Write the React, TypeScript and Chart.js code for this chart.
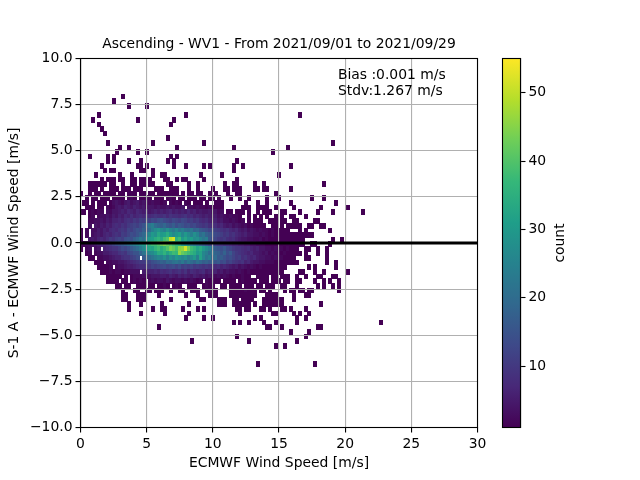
import React, { useEffect, useRef } from "react";
import { Chart, registerables } from "chart.js";

Chart.register(...registerables);
Chart.defaults.font.family = "'DejaVu Sans'";
Chart.defaults.color = "#000";

const titleText = "Ascending - WV1 - From 2021/09/01 to 2021/09/29";
const xLabel = "ECMWF Wind Speed [m/s]";
const yLabel = "S-1 A - ECMWF Wind Speed [m/s]";
const statsLines = ["Bias :0.001 m/s", "Stdv:1.267 m/s"];
const colorbarTicks = [10, 20, 30, 40, 50];
const countRange = [1, 55];
const zeroLineX = [0, 30];
const zeroLineY = [0, 0];

// bin size of the 2d histogram, first row is the top one
const xBin = 0.2267;
const yBin = 0.25;
const yFirstRow = 7.96;

// one entry per y row, each segment is [first column, counts...]
const rows: number[][][] = [
  [[14, 1]],
  [[11, 1]],
  [[16, 1], [22, 1]],
  [],
  [[6, 1], [35, 1], [73, 1]],
  [[4, 1], [19, 1], [31, 1]],
  [[6, 1], [30, 1]],
  [[7, 1]],
  [[8, 1]],
  [[29, 1]],
  [[9, 1], [24, 1], [41, 1], [84, 1]],
  [[13, 1], [16, 1], [32, 1], [51, 1], [69, 1]],
  [[12, 1], [19, 1], [22, 1], [64, 1]],
  [[3, 1], [9, 1], [11, 1], [30, 1], [32, 1]],
  [[9, 1], [11, 1], [16, 1], [20, 1], [29, 1], [31, 1], [52, 1]],
  [[7, 1], [19, 1, 1], [22, 1], [31, 1], [35, 1], [41, 1], [43, 1], [51, 1], [54, 1], [70, 1]],
  [[8, 1], [10, 1, 1], [20, 1, 1], [24, 1], [51, 1]],
  [[5, 1], [13, 1], [17, 1], [24, 1], [27, 1, 1], [40, 1], [47, 1], [66, 1]],
  [[7, 1], [9, 1, 1, 1], [13, 1, 1], [17, 1, 1], [20, 1, 1], [23, 1], [28, 1, 1], [32, 1], [34, 1, 1], [41, 1], [52, 1]],
  [[3, 1, 1, 1, 1, 1, 1], [10, 1, 1], [14, 1], [17, 1, 1], [20, 1, 1], [23, 1, 1], [29, 1, 1], [36, 1], [39, 1], [48, 1], [51, 1, 1], [58, 1], [61, 1], [81, 1]],
  [[3, 1, 1, 1], [7, 1], [10, 1, 1, 1], [14, 1, 1, 1], [18, 1, 1, 1], [25, 1, 1, 1], [30, 1, 1, 1], [36, 1], [39, 1], [44, 1], [48, 1, 1], [51, 1, 1, 1], [58, 1, 1], [61, 1, 1], [70, 1]],
  [[0, 1], [3, 1], [5, 1, 1], [8, 1, 1, 1, 1], [13, 1, 1], [16, 1, 1, 1], [20, 1, 1], [23, 1, 1], [26, 1, 1, 1, 1], [30, 1, 1, 1], [34, 1], [36, 1, 1], [39, 1, 1], [43, 1], [45, 1], [49, 1], [52, 1, 1], [65, 1]],
  [[2, 1], [4, 1, 1], [7, 1, 1, 1], [11, 1, 1, 1, 1], [16, 1, 2, 1], [20, 1, 1, 2, 1], [25, 1, 1, 1], [29, 1, 2, 1], [33, 1, 1], [36, 1, 1, 1], [40, 1, 1], [43, 1, 1], [46, 1], [50, 1], [53, 1], [56, 1], [62, 1], [66, 1], [77, 1], [81, 1]],
  [[1, 1, 1], [4, 1], [6, 1, 1, 1], [10, 1, 3, 4, 3, 2, 4, 5, 3, 4, 5, 3, 4, 3, 2, 3, 2, 2], [27, 1, 2], [30, 2, 1, 2, 1], [35, 2, 1], [38, 1, 1, 1], [42, 1], [45, 1, 1, 1], [55, 1], [59, 1], [62, 1], [70, 1], [85, 1]],
  [[2, 1, 1, 1], [6, 1, 1], [9, 2, 1, 2], [12, 4, 5, 4, 6, 5, 4, 6, 5, 4, 5, 3, 4, 4, 3, 4, 3, 3], [29, 4, 3, 4, 3, 3, 4], [36, 3, 3, 2, 3, 2, 2, 1, 2, 1, 1], [46, 1, 1], [54, 1, 1, 1], [59, 1, 1, 1, 1], [65, 1], [71, 1], [80, 1], [89, 1]],
  [[0, 1, 1], [3, 1, 2, 1, 2, 2], [9, 3, 2, 4, 4, 5, 6, 5, 7, 6, 5, 7, 6, 5, 6, 4, 5, 6, 5, 6, 5, 6, 7, 5, 6, 5, 6, 5, 7, 5, 6, 4, 5, 4, 4, 5, 3, 4, 2, 3], [49, 1, 1], [52, 1, 1, 1], [56, 1], [59, 1], [61, 1, 1, 1], [67, 1, 1], [73, 1], [79, 1], [84, 1], [94, 1]],
  [[3, 1, 2], [6, 2, 3], [8, 3, 4, 3, 5, 4, 6, 5, 7, 6, 8, 6, 7, 8, 7, 9, 7, 8, 9, 8, 8, 9, 7, 9, 8, 8, 7, 8, 9, 7, 8, 6, 7, 6, 5, 6, 5, 4, 5, 3, 4, 3, 2, 3, 2, 2, 1], [56, 1], [58, 1], [60, 1], [62, 1], [65, 1], [67, 1], [70, 1, 1], [75, 1]],
  [[3, 2, 2, 3, 3, 4, 3, 5, 4, 6, 6, 7, 6, 8, 9, 8, 10, 9, 11, 10, 12, 11, 13, 12, 14, 15, 13, 12, 11, 13, 12, 11, 13, 12, 10, 11, 9, 10, 8, 7, 8, 6, 5, 6, 4, 5, 3, 3, 2, 3, 2, 1, 2], [56, 1], [58, 1, 1, 1], [63, 1, 1, 1], [67, 1, 1], [71, 1, 1], [78, 1, 1]],
  [[3, 3], [5, 4, 3, 5, 4, 6, 5, 7, 8, 7, 9, 8, 10, 11, 12, 11, 13, 15, 18, 22, 24, 20, 18, 17, 19, 16, 15, 17, 14, 16, 15, 13, 14, 12, 13, 11, 10, 9, 10, 8, 7, 8, 6, 7, 5, 4, 5, 3, 4, 3, 2, 3, 1, 2, 1, 1, 1, 1], [64, 1, 1], [67, 1], [69, 1, 1, 1, 1, 1], [76, 1, 1], [80, 1, 1]],
  [[0, 1], [2, 2], [4, 3, 3, 5, 4, 6, 5, 7, 8, 7, 9, 10, 9, 12, 11, 13, 15, 14, 17, 16, 20, 24, 27, 29, 26, 24, 28, 25, 23, 26, 22, 24, 21, 20, 22, 18, 19, 16, 15, 14, 12, 13, 11, 10, 9, 8, 9, 7, 6, 7, 5, 4, 5, 3, 4, 3, 2, 3, 2, 2, 1, 2, 1, 1, 1, 1, 1], [73, 1], [75, 1], [83, 1]],
  [[0, 1], [2, 2], [4, 3, 4, 5, 4, 6, 7, 6, 8, 9, 8, 11, 10, 12, 14, 13, 15, 17, 19, 22, 26, 30, 28, 33, 30, 31, 34, 30, 27, 29, 31, 26, 30, 27, 24, 28, 25, 20, 22, 18, 16, 15, 13, 12, 11, 9, 10, 8, 9, 7, 6, 5, 6, 4, 4, 3, 3, 2, 3, 2, 1, 2, 1, 1, 1, 1, 1, 1, 1, 1, 1, 1, 1, 1, 1]],
  [[0, 1], [3, 4, 5, 4, 6, 7, 6, 8, 10, 9, 11, 12, 11, 14, 15, 14, 17, 19, 22, 20, 26, 30, 31, 34, 36, 33, 38, 40, 50, 52, 35, 38, 30, 33, 29, 31, 27, 28, 25, 22, 24, 16, 13, 12, 10, 9, 10, 8, 7, 8, 6, 5, 4, 4, 3, 3, 2, 2, 3, 1, 2, 1, 1, 1, 1, 1, 1, 1, 1, 1, 1, 1, 1], [84, 1], [87, 1]],
  [[0, 2, 2, 3, 3, 4, 5, 6, 7, 8, 9, 10, 12, 14, 15, 16, 18, 20, 22, 24, 26, 28, 30, 32, 36, 38, 38, 40, 42, 44, 42, 40, 38, 36, 34, 30, 28, 26, 24, 22, 20, 18, 16, 14, 12, 12, 10, 9, 9, 8, 8, 7, 6, 6, 5, 5, 4, 4, 3, 3, 2, 2, 2, 1, 1, 1, 1, 1, 1, 1, 1, 1, 1, 1, 1, 1], [77, 1, 1], [83, 1]],
  [[0, 1], [2, 2, 3], [5, 3, 4], [8, 6, 7, 8, 9, 9, 11, 13, 12, 14, 16, 18, 20, 23, 26, 30, 33, 32, 36, 38, 34, 37, 40, 44, 42, 39, 45, 46, 52, 44, 38, 36, 32, 34, 30, 27, 24, 20, 16, 15, 14, 16, 13, 12, 10, 9, 9, 8, 7, 8, 6, 5, 6, 4, 4, 3, 3, 2, 3, 2, 2, 1, 2, 1, 1, 1], [75, 1, 1], [79, 1], [82, 1]],
  [[2, 1, 2], [5, 2, 3, 3, 5, 5, 6, 7, 7, 9, 10, 9, 12, 13, 15, 15, 18, 22, 24, 26, 27, 30, 34, 33, 36, 32, 35, 38, 37, 46, 42, 40, 38, 36, 34, 30, 32, 26, 24, 20, 22, 18, 17, 15, 18, 14, 16, 12, 10, 9, 8, 7, 6, 7, 5, 5, 4, 3, 4, 2, 3, 2, 2, 1, 2, 1, 1, 1, 1, 1], [75, 1], [79, 1], [82, 1]],
  [[3, 1, 1], [6, 2, 2, 3, 3, 4, 5, 6, 6, 8, 9, 9, 11, 12, 14], [21, 16, 18, 20, 22, 24, 26, 25, 28, 24, 28, 26, 30, 28, 26, 28, 24, 27, 30, 24, 32, 26, 22, 24, 18, 20, 16, 17, 15, 13, 14, 12, 10, 11, 8, 9, 7, 6, 7, 5, 4, 4, 3, 3, 2, 3, 2, 2, 1, 1, 1, 1], [75, 1, 1], [82, 1]],
  [[5, 1, 1, 1], [9, 2, 2, 3, 3, 4, 4, 5, 6, 7, 8, 9, 10, 10, 12, 12, 14, 15, 16, 18, 17, 20, 19, 21, 22, 20, 23, 19, 22, 20, 18, 21, 19, 17, 18, 16, 18, 15, 16, 13, 14, 11, 12, 10, 9, 8, 9, 6, 7, 5, 4, 4, 3, 3, 2, 2, 2, 1, 1, 1, 1, 1, 1, 1, 1], [82, 1], [85, 1]],
  [[6, 1, 1, 1, 1, 2], [12, 2, 3, 3, 4, 5, 5, 6, 7, 8, 8, 9, 10, 12, 11, 12, 13, 14, 12, 13, 14, 12, 14, 11, 12, 11, 12, 10, 11, 10, 9, 10, 9, 8, 7, 8, 6, 7, 6, 5, 4, 5, 3, 4, 3, 2, 3, 2, 1, 2, 1, 1, 1, 1, 1, 1, 1, 1], [76, 1], [78, 1], [85, 1]],
  [[7, 1, 1, 1, 2, 1, 2, 2, 1, 2, 2, 3, 3, 3], [21, 5, 5, 6, 6, 7, 6, 8, 7, 8, 9, 7, 8, 9, 7, 9, 6, 8, 7, 6, 7, 8, 5, 6, 5, 6, 4, 5, 3, 4, 3, 3, 2, 3, 2, 1, 2, 1, 1, 1, 1, 1, 1, 1, 1, 1, 1, 1], [73, 1, 1], [78, 1], [81, 1], [89, 1]],
  [[9, 1, 1, 1, 1, 1], [15, 1], [17, 1, 2, 2, 2, 3, 3, 3, 4, 4, 4, 5, 5, 4, 6, 5, 4, 6, 5, 6, 5, 4, 6, 5, 4, 5, 3, 4, 3, 2, 3, 2, 3, 2, 1, 2, 1, 1, 2, 1, 1], [59, 1, 1, 1, 1], [64, 1, 1], [67, 1, 1, 1], [72, 1], [75, 1], [79, 1, 1], [84, 1, 1]],
  [[9, 1, 1, 1, 1], [14, 1, 1], [17, 1, 2, 1, 2, 1], [23, 2, 3, 2, 3, 3, 2, 4, 3, 2, 3, 3, 2, 3, 2, 3, 2, 1, 2], [42, 2, 1, 2, 1, 1], [48, 1, 1, 1, 1], [53, 1, 2, 1, 1, 1, 1], [60, 1, 1, 1], [64, 1, 1, 1], [68, 1, 1], [72, 1, 1], [78, 1], [81, 1], [83, 1], [86, 1]],
  [[12, 1, 1], [15, 1, 1], [19, 1, 1, 1], [23, 1, 1], [26, 1, 1, 2, 1], [31, 1, 2, 1], [36, 1, 1, 1], [41, 1, 2, 1, 1], [47, 1, 1], [50, 1, 1, 1, 1], [55, 1, 1, 1], [59, 1, 1], [62, 1, 1, 1], [67, 1, 1], [72, 1], [79, 1], [81, 1], [84, 1], [86, 1]],
  [[14, 1], [18, 1, 1], [22, 1, 1], [25, 1, 1, 1], [30, 1], [33, 1, 1], [37, 1, 1, 1], [42, 1, 2, 1, 1], [50, 1, 1, 1, 1, 1, 2, 1, 1, 1], [60, 1, 1], [63, 1], [68, 1], [70, 1, 1], [73, 1, 1], [76, 1, 1], [86, 1]],
  [[14, 1, 1], [19, 1, 1, 1], [26, 1], [35, 1], [39, 1], [43, 1, 1, 1], [50, 1, 1, 1, 1, 1, 1, 1, 1, 1], [62, 1, 1, 1, 1], [71, 1], [75, 1, 1]],
  [[14, 1, 1], [19, 1, 1, 1], [30, 1], [40, 1, 1], [46, 1, 1, 1], [51, 1, 1], [54, 1, 1, 1, 1], [61, 1, 1, 1, 1, 1, 1, 1], [71, 1]],
  [[16, 1], [20, 1], [27, 1], [36, 1], [46, 1, 1, 1], [51, 1, 1, 1, 1, 1, 1], [58, 1], [61, 1, 1, 1, 1, 1, 1, 1], [80, 1]],
  [[16, 1], [24, 1], [27, 1, 1], [34, 1], [39, 1], [41, 1], [52, 1, 1], [55, 1, 1], [60, 1, 1], [63, 1], [67, 1, 1], [70, 1], [75, 1]],
  [[20, 1], [28, 1], [36, 1], [53, 1], [64, 1, 1], [71, 1], [73, 1], [76, 1]],
  [[35, 1], [41, 1], [44, 1], [58, 1], [60, 1], [72, 1], [75, 1]],
  [[51, 1], [53, 1], [56, 1], [61, 1], [65, 1], [72, 1], [100, 1]],
  [[26, 1], [62, 1, 1], [67, 1], [79, 1, 1]],
  [[70, 1], [76, 1]],
  [[52, 1], [75, 1]],
  [[37, 1], [56, 1], [72, 1]],
  [[65, 1], [68, 1]],
  [],
  [],
  [],
  [[59, 1], [78, 1]],
];

const viridisStops = [
  "#440154", "#482878", "#3e4989", "#31688e", "#26828e",
  "#1f9e89", "#35b779", "#6ece58", "#b5de2b", "#fde725",
];

type Cell = { x: number; y: number; v: number };

function buildCells(): Cell[] {
  const cells: Cell[] = [];
  rows.forEach((segments, k) => {
    segments.forEach(([first, ...counts]) => {
      counts.forEach((v, i) => {
        cells.push({ x: (first + i) * xBin, y: yFirstRow - k * yBin, v });
      });
    });
  });
  return cells;
}

function hexToRgb(hex: string) {
  return [1, 3, 5].map((i) => parseInt(hex.slice(i, i + 2), 16));
}

function viridis(count: number) {
  const t = Math.min(1, Math.max(0, (count - countRange[0]) / (countRange[1] - countRange[0])));
  const pos = t * (viridisStops.length - 1);
  const i = Math.min(viridisStops.length - 2, Math.floor(pos));
  const a = hexToRgb(viridisStops[i]);
  const b = hexToRgb(viridisStops[i + 1]);
  const c = a.map((v, j) => Math.round(v + (b[j] - v) * (pos - i)));
  return `rgb(${c[0]},${c[1]},${c[2]})`;
}

// cells go under the grid, so this runs before the grid layer
const cellsPlugin = {
  id: "cells",
  beforeDraw(chart: any) {
    const { ctx, chartArea, scales } = chart;
    ctx.save();
    ctx.beginPath();
    ctx.rect(chartArea.left, chartArea.top, chartArea.right - chartArea.left, chartArea.bottom - chartArea.top);
    ctx.clip();
    chart.data.datasets[0].data.forEach((c: Cell) => {
      const x0 = Math.round(scales.x.getPixelForValue(c.x - xBin / 2));
      const x1 = Math.round(scales.x.getPixelForValue(c.x + xBin / 2));
      const y0 = Math.round(scales.y.getPixelForValue(c.y + yBin / 2));
      const y1 = Math.round(scales.y.getPixelForValue(c.y - yBin / 2));
      ctx.fillStyle = viridis(c.v);
      ctx.fillRect(x0, y0, x1 - x0 + 1, y1 - y0 + 1);
    });
    ctx.restore();
  },
};

const framePlugin = {
  id: "frame",
  afterDraw(chart: any) {
    const { ctx, chartArea, scales } = chart;
    ctx.save();
    ctx.strokeStyle = "#000";
    ctx.lineWidth = 1.1;
    ctx.strokeRect(chartArea.left, chartArea.top, chartArea.right - chartArea.left, chartArea.bottom - chartArea.top);
    if (chart.config.type === "scatter") {
      ctx.fillStyle = "#000";
      ctx.font = "13.9px 'DejaVu Sans'";
      ctx.textBaseline = "middle";
      statsLines.forEach((line, i) => {
        ctx.fillText(line, scales.x.getPixelForValue(19.45), scales.y.getPixelForValue(9.08 - i * 0.87));
      });
    }
    ctx.restore();
  },
};

const countLabelPlugin = {
  id: "countLabel",
  afterDraw(chart: any) {
    const { ctx, chartArea } = chart;
    ctx.save();
    ctx.translate(560, (chartArea.top + chartArea.bottom) / 2);
    ctx.rotate(-Math.PI / 2);
    ctx.fillStyle = "#000";
    ctx.font = "13.9px 'DejaVu Sans'";
    ctx.textAlign = "center";
    ctx.textBaseline = "middle";
    ctx.fillText("count", 0, 0);
    ctx.restore();
  },
};

const minus = (v: number, digits: number) => v.toFixed(digits).replace("-", "\u2212");

const App: React.FC = () => {
  const mainRef = useRef<HTMLCanvasElement | null>(null);
  const barRef = useRef<HTMLCanvasElement | null>(null);

  useEffect(() => {
    document.body.style.margin = "0";
    if (!mainRef.current || !barRef.current) return;

    const main = new Chart(mainRef.current, {
      type: "scatter",
      data: {
        datasets: [
          { data: buildCells(), pointRadius: 0 },
          {
            data: zeroLineX.map((x, i) => ({ x, y: zeroLineY[i] })),
            showLine: true,
            borderColor: "#000",
            borderWidth: 2.8,
            pointRadius: 0,
          },
        ] as any,
      },
      options: {
        responsive: false,
        animation: false,
        events: [],
        layout: { padding: { left: 0, right: 162.5, top: 36.5, bottom: 0 } },
        plugins: {
          legend: { display: false },
          tooltip: { enabled: false },
          title: {
            display: true,
            text: titleText,
            fullSize: false,
            font: { size: 13.9, weight: "normal", lineHeight: 1.2 },
            color: "#000",
            padding: { top: 0, bottom: 5.32 },
          },
        },
        scales: {
          x: {
            type: "linear",
            min: 0,
            max: 30,
            afterFit: (s: any) => {
              s.height = 52.5;
            },
            grid: { color: "#b0b0b0", lineWidth: 1.1, tickColor: "#000", tickLength: 5, tickWidth: 1.1 },
            border: { color: "#000", width: 1.1 },
            ticks: {
              stepSize: 5,
              maxRotation: 0,
              padding: 4,
              font: { size: 13.9 },
              callback: (v: any) => String(v),
            },
            title: {
              display: true,
              text: xLabel,
              font: { size: 13.9 },
              padding: { top: 0, bottom: 8 },
            },
          },
          y: {
            type: "linear",
            min: -10,
            max: 10,
            afterFit: (s: any) => {
              s.width = 80.5;
            },
            grid: { color: "#b0b0b0", lineWidth: 1.1, tickColor: "#000", tickLength: 5, tickWidth: 1.1 },
            border: { color: "#000", width: 1.1 },
            ticks: {
              stepSize: 2.5,
              padding: 3,
              font: { size: 13.9 },
              callback: (v: any) => minus(Number(v), 1),
            },
            title: {
              display: true,
              text: yLabel,
              font: { size: 13.9 },
              padding: { top: 6, bottom: 0 },
            },
          },
        },
      },
      plugins: [cellsPlugin, framePlugin],
    } as any);

    const bar = new Chart(barRef.current, {
      type: "bar",
      data: {
        labels: ["count"],
        datasets: [
          {
            data: [countRange as [number, number]],
            categoryPercentage: 1,
            barPercentage: 1,
            backgroundColor: (c: any) => {
              const area = c.chart.chartArea;
              if (!area) return viridisStops[0];
              const g = c.chart.ctx.createLinearGradient(0, area.bottom, 0, area.top);
              viridisStops.forEach((stop, i) => g.addColorStop(i / (viridisStops.length - 1), stop));
              return g;
            },
          },
        ] as any,
      },
      options: {
        responsive: false,
        animation: false,
        events: [],
        layout: { padding: { left: 502.5, right: 0, top: 58.5, bottom: 52.5 } },
        plugins: { legend: { display: false }, tooltip: { enabled: false } },
        scales: {
          x: { display: false },
          y: {
            position: "right",
            min: countRange[0],
            max: countRange[1],
            afterBuildTicks: (s: any) => {
              s.ticks = colorbarTicks.map((value) => ({ value }));
            },
            afterFit: (s: any) => {
              s.width = 119.5;
            },
            grid: { drawOnChartArea: false, tickColor: "#000", tickLength: 5, tickWidth: 1.1 },
            border: { color: "#000", width: 1.1 },
            ticks: { padding: 3, font: { size: 13.9 } },
          },
        },
      },
      plugins: [framePlugin, countLabelPlugin],
    } as any);

    return () => {
      main.destroy();
      bar.destroy();
    };
  }, []);

  return (
    <div style={{ position: "relative", width: 640, height: 480 }}>
      <canvas ref={mainRef} width={640} height={480} style={{ position: "absolute", left: 0, top: 0 }} />
      <canvas ref={barRef} width={640} height={480} style={{ position: "absolute", left: 0, top: 0 }} />
    </div>
  );
};

export default App;
